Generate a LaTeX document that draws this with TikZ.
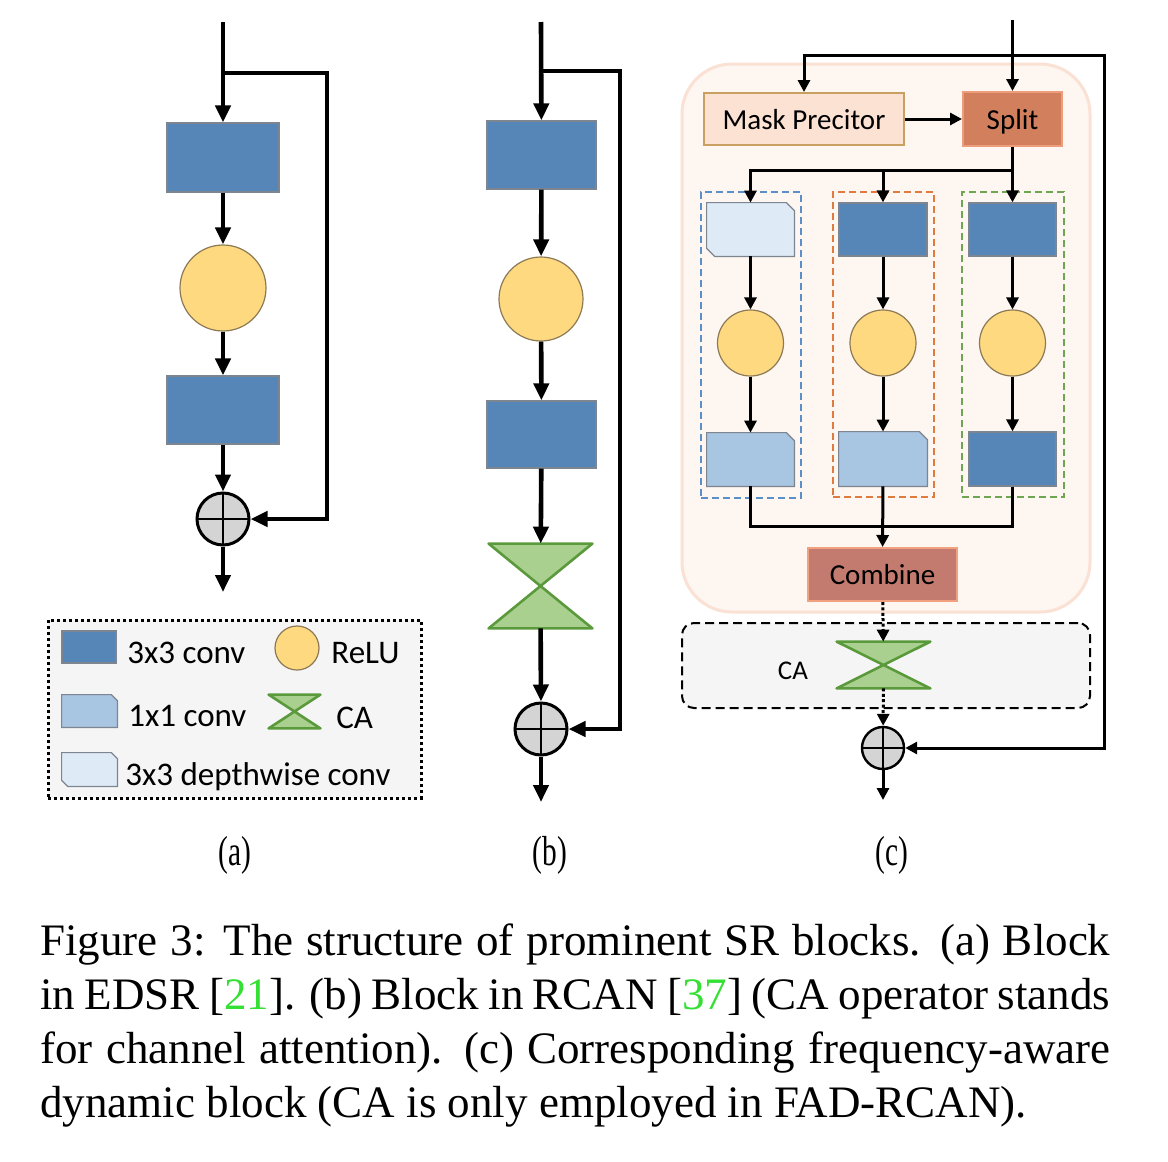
\documentclass[tikz,border=0pt]{standalone}
\usepackage{fontspec}
\setmainfont{Liberation Serif}
\newfontfamily\diagfont{Carlito}
\usetikzlibrary{arrows.meta, positioning, calc}
\definecolor{ConvBlue}{HTML}{5685B8}
\definecolor{LightBlue}{HTML}{A8C5E2}
\definecolor{PaleBlue}{HTML}{DEEAF5}
\definecolor{EdgeGray}{HTML}{7D8590}
\definecolor{ReluFill}{HTML}{FFD980}
\definecolor{ReluEdge}{HTML}{8C7A55}
\definecolor{CAFill}{HTML}{A9D08E}
\definecolor{CAEdge}{HTML}{5B9A3C}
\definecolor{SumGray}{HTML}{D4D4D4}
\definecolor{LegendGray}{HTML}{F5F5F5}
\definecolor{MaskFill}{HTML}{FBE2D3}
\definecolor{MaskEdge}{HTML}{C8A062}
\definecolor{SplitFill}{HTML}{D17F5D}
\definecolor{SplitEdge}{HTML}{EE9D7C}
\definecolor{CombFill}{HTML}{C47B6F}
\definecolor{CombEdge}{HTML}{F1A17F}
\definecolor{RegionFill}{HTML}{FEF6F1}
\definecolor{RegionEdge}{HTML}{FAE1D4}
\definecolor{GroupBlue}{HTML}{5B8FC7}
\definecolor{GroupOrange}{HTML}{E07B40}
\definecolor{GroupGreen}{HTML}{6EA550}
\definecolor{CiteGreen}{HTML}{33E033}

% CA hourglass drawn over an empty node
\newcommand{\hourglass}[1]{%
  \filldraw[draw=CAEdge, fill=CAFill, line width=1.3pt, line join=round]
    (#1.north west) -- (#1.north east) -- (#1.south west) -- (#1.south east) -- cycle;}
% 1x1 conv: top right corner cut
\newcommand{\snipbox}[3]{%
  \filldraw[draw=EdgeGray, fill=#2, line width=0.6pt]
    (#1.south west) -- (#1.north west) -- ($(#1.north east)+(-#3,0)$)
    -- ($(#1.north east)+(0,#3)$) -- (#1.south east) -- cycle;}
% depthwise conv: top right and bottom left corners cut
\newcommand{\dsnipbox}[3]{%
  \filldraw[draw=EdgeGray, fill=#2, line width=0.6pt]
    ($(#1.south west)+(#3,0)$) -- ($(#1.south west)+(0,-#3)$) -- (#1.north west)
    -- ($(#1.north east)+(-#3,0)$) -- ($(#1.north east)+(0,#3)$) -- (#1.south east) -- cycle;}

\begin{document}
\begin{tikzpicture}[x=0.5pt, y=-0.5pt, >={Triangle[length=8.5pt, width=7.5pt]},
    flow/.style={->, line width=2.3pt},
    cflow/.style={-{Triangle[length=6pt, width=6pt]}, line width=1.5pt},
    dotflow/.style={cflow, dash pattern=on 1.5pt off 1.2pt},
    conv/.style={draw=EdgeGray, fill=ConvBlue, line width=0.6pt, inner sep=0pt},
    relu/.style={circle, draw=ReluEdge, fill=ReluFill, line width=0.6pt, inner sep=0pt},
    snipshell/.style={inner sep=0pt},
    cabox/.style={inner sep=0pt},
    sumnode/.style={circle, draw, fill=SumGray, line width=1.5pt, inner sep=0pt,
      path picture={\draw[line width=1.2pt]
        (path picture bounding box.north) -- (path picture bounding box.south)
        (path picture bounding box.west) -- (path picture bounding box.east);}},
    legtext/.style={anchor=base west, inner sep=0pt, font=\diagfont\fontsize{16.5}{19}\selectfont},
    blocktext/.style={font=\diagfont\fontsize{14.5}{17}\selectfont, inner sep=0pt,
      text height=10pt, text depth=0pt},
    group/.style={dash pattern=on 3.5pt off 2pt, line width=1pt, inner sep=0pt},
    sublabel/.style={font=\fontsize{21}{24}\selectfont, inner sep=0pt},
    caption/.style={anchor=base west, inner sep=0pt, font=\fontsize{22.5}{27}\selectfont}]

  \useasboundingbox[fill=white] (0,0) rectangle (1168,1162);

  % (a) EDSR block
  \coordinate (inA) at (223,22);
  \coordinate (brA) at (223,73);
  \node[conv, minimum width=56pt, minimum height=34.5pt] (convA1) at (223,157.5) {};
  \node[relu, minimum size=43pt] (reluA) at (223,288) {};
  \node[conv, minimum width=56pt, minimum height=34pt] (convA2) at (223,410) {};
  \node[sumnode, minimum size=26pt] (sumA) at (223,519) {};
  \coordinate (skipA) at (327,519);
  \coordinate (outA) at (223,592);
  \draw[flow] (inA) -- (convA1);
  \draw[flow] (convA1) -- (reluA);
  \draw[flow] (reluA) -- (convA2);
  \draw[flow] (convA2) -- (sumA);
  \draw[flow] (sumA) -- (outA);
  \draw[flow] (brA) -| (skipA) -- (sumA);

  % legend
  \node[draw, line width=1.5pt, dash pattern=on 1.5pt off 1.5pt, fill=LegendGray,
    minimum width=186.5pt, minimum height=89pt] (legend) at (234.5,709) {};
  \node[conv, minimum width=27pt, minimum height=16pt] (legConv) at (89,647) {};
  \node[relu, minimum size=22pt] (legRelu) at (297,648) {};
  \node[snipshell, minimum width=27.5pt, minimum height=16pt] (legOne) at (89.5,711) {};
  \snipbox{legOne}{LightBlue}{6}
  \node[cabox, minimum width=25.5pt, minimum height=16.5pt] (legCA) at (294.5,711.5) {};
  \hourglass{legCA}
  \node[snipshell, minimum width=27.5pt, minimum height=16.5pt] (legDW) at (89.5,769.5) {};
  \dsnipbox{legDW}{PaleBlue}{6}
  \node[legtext] (txtConv) at (127,663) {3x3 conv};
  \node[legtext] (txtRelu) at (331,663) {ReLU};
  \node[legtext] (txtOne) at (128,726) {1x1 conv};
  \node[legtext] (txtCA) at (336,728) {CA};
  \node[legtext] (txtDW) at (125,785) {3x3 depthwise conv};

  % (b) RCAN block
  \coordinate (inB) at (541,22);
  \coordinate (brB) at (541,71);
  \node[conv, minimum width=54.5pt, minimum height=34pt] (convB1) at (541.5,155) {};
  \node[relu, minimum size=42pt] (reluB) at (541,299) {};
  \node[conv, minimum width=54.5pt, minimum height=33.5pt] (convB2) at (541.5,434.5) {};
  \node[cabox, minimum width=51.5pt, minimum height=42pt] (caB) at (540.5,586) {};
  \hourglass{caB}
  \node[sumnode, minimum size=26pt] (sumB) at (541,729) {};
  \coordinate (skipB) at (620,729);
  \coordinate (outB) at (541,802);
  \draw[flow] (inB) -- (convB1);
  \draw[flow] (convB1) -- (reluB);
  \draw[flow] (reluB) -- (convB2);
  \draw[flow] (convB2) -- (caB);
  \draw[flow] (caB) -- (sumB);
  \draw[flow] (sumB) -- (outB);
  \draw[flow] (brB) -| (skipB) -- (sumB);

  % (c) frequency-aware dynamic block
  \node[draw=RegionEdge, fill=RegionFill, line width=1.5pt, rounded corners=25pt,
    minimum width=204pt, minimum height=274pt] (fad) at (886,338) {};
  \node[draw, fill=LegendGray, line width=1pt, dash pattern=on 4.5pt off 2.5pt, rounded corners=6pt,
    minimum width=204pt, minimum height=42.5pt] (caZone) at (886,665.5) {};
  \node[group, draw=GroupBlue, minimum width=50pt, minimum height=153pt] (grp1) at (751,345) {};
  \node[group, draw=GroupOrange, minimum width=50.5pt, minimum height=152.5pt] (grp2) at (883.5,344.5) {};
  \node[group, draw=GroupGreen, minimum width=51pt, minimum height=152.5pt] (grp3) at (1013,344.5) {};

  \node[blocktext, draw=MaskEdge, fill=MaskFill, line width=1pt,
    minimum width=100pt, minimum height=26pt] (mask) at (804,119) {Mask Precitor};
  \node[blocktext, draw=SplitEdge, fill=SplitFill, line width=1pt,
    minimum width=49.5pt, minimum height=27pt] (split) at (1012.5,119) {Split};

  \node[snipshell, minimum width=43.5pt, minimum height=26.5pt] (c1a) at (750.5,229.5) {};
  \dsnipbox{c1a}{PaleBlue}{8}
  \node[relu, minimum size=33pt] (c1b) at (750.5,343) {};
  \node[snipshell, minimum width=43.5pt, minimum height=26.5pt] (c1c) at (750.5,459.5) {};
  \snipbox{c1c}{LightBlue}{8}
  \node[conv, minimum width=44pt, minimum height=26.5pt] (c2a) at (883,229.5) {};
  \node[relu, minimum size=33pt] (c2b) at (883,343) {};
  \node[snipshell, minimum width=44pt, minimum height=27pt] (c2c) at (883,459) {};
  \snipbox{c2c}{LightBlue}{8}
  \node[conv, minimum width=43.5pt, minimum height=26.5pt] (c3a) at (1012.5,229.5) {};
  \node[relu, minimum size=33pt] (c3b) at (1012.5,343) {};
  \node[conv, minimum width=43.5pt, minimum height=27pt] (c3c) at (1012.5,459) {};

  \node[blocktext, draw=CombEdge, fill=CombFill, line width=1pt,
    minimum width=74.5pt, minimum height=26.5pt] (combine) at (882.5,574.5) {Combine};
  \node[cabox, minimum width=46.5pt, minimum height=23pt] (caC) at (883.5,665) {};
  \hourglass{caC}
  \node[font=\diagfont\fontsize{13.5}{16}\selectfont, inner sep=0pt] (caLabel) at (793,671) {CA};
  \node[sumnode, minimum size=21pt, line width=1.2pt] (sumC) at (883,748) {};

  \coordinate (inC) at (1012.5,20);
  \coordinate (brC) at (1012.5,55);
  \coordinate (skipC) at (1104,748);
  \coordinate (fork) at (1012.5,170);
  \coordinate (merge) at (883,526);
  \coordinate (outC) at (883,800);
  \draw[cflow] (inC) -- (split);
  \draw[cflow] (brC) -| (mask);
  \draw[cflow] (brC) -| (skipC) -- (sumC);
  \draw[cflow] (mask) -- (split);
  \draw[cflow] (split) -- (c3a);
  \draw[cflow] (fork) -| (c1a);
  \draw[cflow] (fork -| c2a) -- (c2a);
  \draw[cflow] (c1a) -- (c1b);
  \draw[cflow] (c1b) -- (c1c);
  \draw[cflow] (c2a) -- (c2b);
  \draw[cflow] (c2b) -- (c2c);
  \draw[cflow] (c3a) -- (c3b);
  \draw[cflow] (c3b) -- (c3c);
  \draw[line width=1.5pt] (c1c) |- (merge);
  \draw[line width=1.5pt] (c3c) |- (merge);
  \draw[cflow] (c2c) -- (combine);
  \draw[dotflow] (combine) -- (caC);
  \draw[dotflow] (caC) -- (sumC);
  \draw[cflow] (sumC) -- (outC);

  % sub-figure labels
  \node[sublabel] (labA) at (235,855) {\scalebox{0.7}[1]{(a)}};
  \node[sublabel] (labB) at (550,855) {\scalebox{0.7}[1]{(b)}};
  \node[sublabel] (labC) at (892,855) {\scalebox{0.7}[1]{(c)}};

  % caption
  \node[caption] (cap1) at (40,955) {\makebox[535pt][s]{Figure 3: The structure of prominent SR blocks. (a) Block}};
  \node[caption] (cap2) at (40,1009) {\makebox[535pt][s]{in EDSR [\textcolor{CiteGreen}{21}]. (b) Block in RCAN [\textcolor{CiteGreen}{37}] (CA operator stands}};
  \node[caption] (cap3) at (40,1063) {\makebox[535pt][s]{for channel attention). (c) Corresponding frequency-aware}};
  \node[caption] (cap4) at (40,1117) {dynamic block (CA is only employed in FAD-RCAN).};
\end{tikzpicture}
\end{document}
